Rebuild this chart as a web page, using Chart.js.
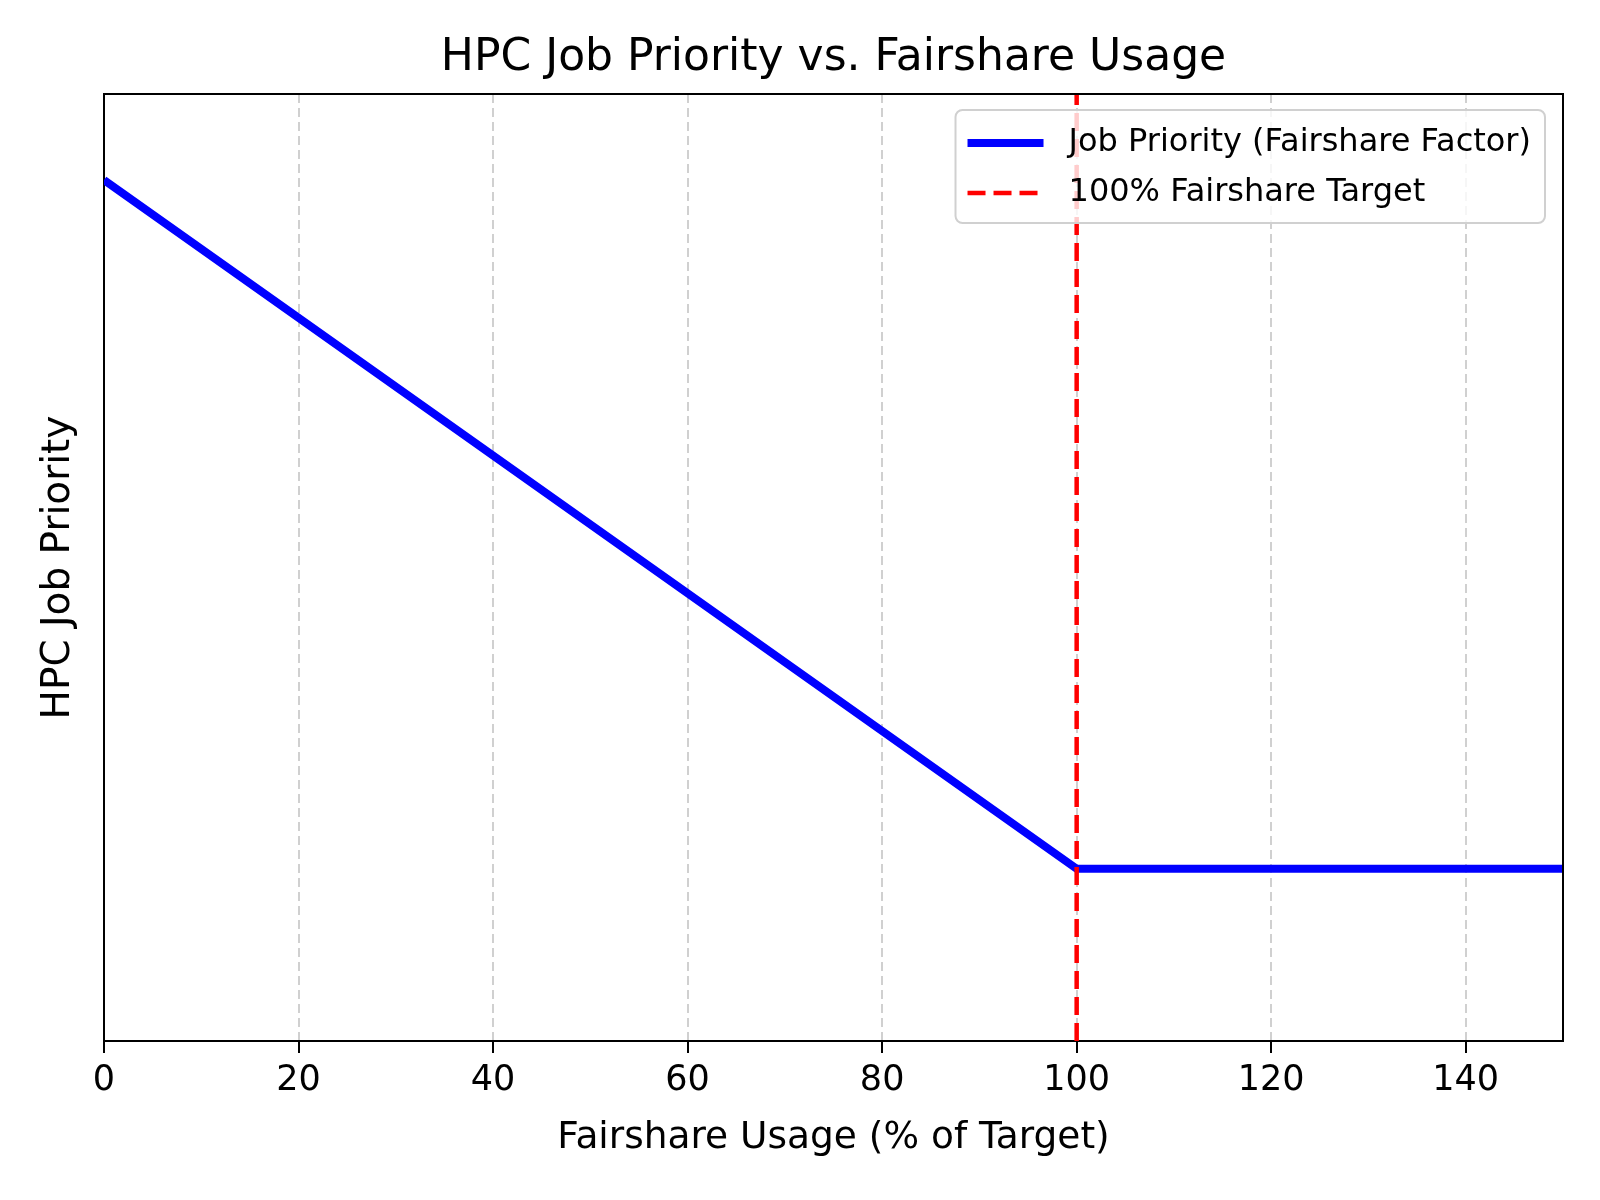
<!DOCTYPE html>
<html>
<head>
<meta charset="utf-8">
<title>HPC Job Priority vs. Fairshare Usage</title>
<script src="https://cdn.jsdelivr.net/npm/chart.js@4.4.1/dist/chart.umd.min.js"></script>
<style>
  html, body { margin: 0; padding: 0; background: #fff; }
  #wrap { width: 1600px; height: 1200px; }
</style>
</head>
<body>
<div id="wrap"><canvas id="myChart" width="1600" height="1200"></canvas></div>
<script>
// data
const usage = [0, 100, 150];          // fairshare usage, % of target
const priority = [1.0, 0.2, 0.2];     // job priority (fairshare factor)
const targetX = [100, 100];           // 100% target line
const targetY = [0, 1.1];
const xTicks = [0, 20, 40, 60, 80, 100, 120, 140];
const xMin = 0, xMax = 150;
const yMin = 0, yMax = 1.1;

const FONT = "'DejaVu Sans', 'Open Sans', sans-serif";

function points(xs, ys) {
  return xs.map((x, i) => ({ x: x, y: ys[i] }));
}

// top + right spines
const frame = {
  id: 'frame',
  afterDatasetsDraw(chart) {
    const a = chart.chartArea;
    const ctx = chart.ctx;
    ctx.save();
    ctx.strokeStyle = '#000';
    ctx.lineWidth = 2;
    ctx.beginPath();
    ctx.moveTo(a.left, a.top);
    ctx.lineTo(a.right, a.top);
    ctx.lineTo(a.right, a.bottom);
    ctx.stroke();
    ctx.restore();
  }
};

// legend box in the upper right corner of the plot
const boxLegend = {
  id: 'boxLegend',
  afterDraw(chart) {
    const a = chart.chartArea;
    const ctx = chart.ctx;
    const sets = chart.data.datasets;
    ctx.save();
    ctx.font = '32px ' + FONT;
    let w = 0;
    sets.forEach(d => { w = Math.max(w, ctx.measureText(d.label).width); });
    const bw = 113 + w + 14;
    const bh = 113;
    const bx = a.right - 18 - bw;
    const by = a.top + 16;

    ctx.beginPath();
    ctx.roundRect(bx, by, bw, bh, 7);
    ctx.fillStyle = 'rgba(255,255,255,0.8)';
    ctx.fill();
    ctx.strokeStyle = '#d0d0d0';
    ctx.lineWidth = 2;
    ctx.stroke();

    sets.forEach((d, i) => {
      const y = by + 33 + i * 50;
      ctx.beginPath();
      ctx.strokeStyle = d.borderColor;
      ctx.lineWidth = d.borderWidth;
      ctx.setLineDash(d.borderDash || []);
      ctx.moveTo(bx + 12, y);
      ctx.lineTo(bx + 88, y);
      ctx.stroke();
      ctx.setLineDash([]);
      ctx.fillStyle = '#000';
      ctx.textBaseline = 'middle';
      ctx.fillText(d.label, bx + 113, y);
    });
    ctx.restore();
  }
};

const ctx = document.getElementById('myChart');
const myChart = new Chart(ctx, {
  type: 'scatter',
  data: {
    datasets: [{
      label: 'Job Priority (Fairshare Factor)',
      data: points(usage, priority),
      showLine: true,
      borderColor: '#0000ff',
      backgroundColor: '#0000ff',
      borderWidth: 8,
      pointRadius: 0,
      order: 2
    }, {
      label: '100% Fairshare Target',
      data: points(targetX, targetY),
      showLine: true,
      borderColor: '#ff0000',
      backgroundColor: '#ff0000',
      borderWidth: 4.5,
      borderDash: [18, 8],
      pointRadius: 0,
      order: 1
    }]
  },
  options: {
    responsive: false,
    animation: false,
    devicePixelRatio: 1,
    layout: { padding: { left: 0, right: 37, top: 0, bottom: 0 } },
    plugins: {
      legend: { display: false },
      tooltip: { enabled: false },
      title: {
        display: true,
        fullSize: false,
        text: 'HPC Job Priority vs. Fairshare Usage',
        color: '#000',
        font: { family: FONT, size: 44, weight: 'normal' },
        padding: { top: 32, bottom: 9.2 }
      }
    },
    scales: {
      x: {
        type: 'linear',
        min: xMin,
        max: xMax,
        afterBuildTicks: (scale) => {
          scale.ticks = xTicks.map(v => ({ value: v }));
        },
        afterFit: (scale) => { scale.height = 159; },
        ticks: {
          color: '#000',
          font: { family: FONT, size: 35 },
          padding: 7,
          maxRotation: 0
        },
        grid: {
          color: '#d0d0d0',
          lineWidth: 2,
          tickColor: '#000',
          tickWidth: 2,
          tickLength: 12
        },
        border: { display: true, color: '#000', width: 2, dash: [9, 5] },
        title: {
          display: true,
          text: 'Fairshare Usage (% of Target)',
          color: '#000',
          font: { family: FONT, size: 37.5 },
          padding: { top: 0, bottom: 39 }
        }
      },
      y: {
        type: 'linear',
        min: yMin,
        max: yMax,
        afterFit: (scale) => { scale.width = 104; },
        ticks: { display: false },
        grid: { display: false },
        border: { display: true, color: '#000', width: 2 },
        title: {
          display: true,
          text: 'HPC Job Priority',
          color: '#000',
          font: { family: FONT, size: 39 },
          padding: { top: 35, bottom: 0 }
        }
      }
    }
  },
  plugins: [frame, boxLegend]
});
</script>
</body>
</html>
